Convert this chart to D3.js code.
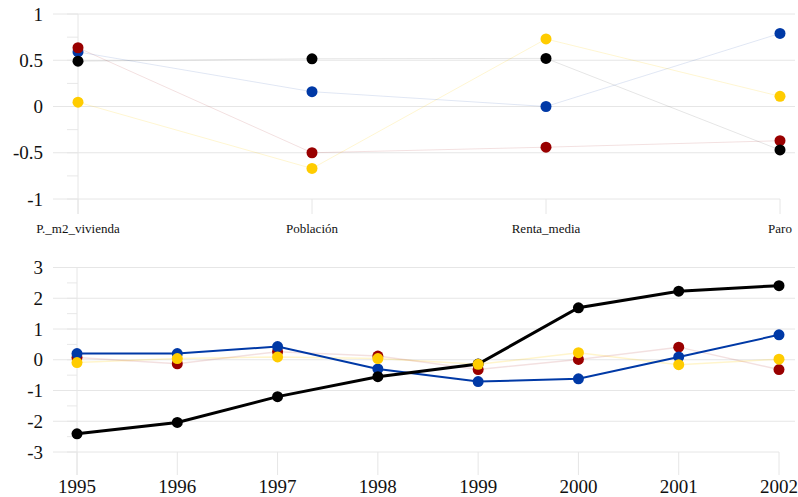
<!DOCTYPE html>
<html><head><meta charset="utf-8">
<script src="https://cdn.jsdelivr.net/npm/d3@7"></script>
<style>body{margin:0;background:#fff}svg{display:block}</style>
</head><body><svg id="c" width="798" height="497"></svg>
<script>
const categories = ["P._m2_vivienda","Población","Renta_media","Paro"];
const topBlue   = [0.59, 0.16, 0.00, 0.79];
const topRed    = [0.635, -0.50, -0.44, -0.37];
const topBlack  = [0.49, 0.516, 0.52, -0.47];
const topYellow = [0.047, -0.67, 0.73, 0.11];
const topTicks = [-1,-0.5,0,0.5,1];
const topTickLabels = ["-1","-0.5","0","0.5","1"];

const years = ["1995","1996","1997","1998","1999","2000","2001","2002"];
const botBlack  = [-2.41, -2.04, -1.20, -0.55, -0.14, 1.69, 2.23, 2.41];
const botBlue   = [0.20, 0.20, 0.43, -0.30, -0.71, -0.62, 0.09, 0.81];
const botRed    = [0.07, -0.13, 0.26, 0.12, -0.32, 0.01, 0.41, -0.32];
const botYellow = [-0.09, 0.04, 0.09, 0.04, -0.15, 0.23, -0.16, 0.02];
const botTicks = [-3,-2,-1,0,1,2,3];

const C = {red:"#990000", blue:"#0039a6", black:"#000000", yellow:"#ffcc00"};
const FONT = "'Liberation Serif', 'DejaVu Serif', serif";
const svg = d3.select("#c");

function panel(cfg){
  const g = svg.append("g");
  const x = d3.scalePoint().domain(cfg.cats).range(cfg.xr);
  const y = d3.scaleLinear().domain(cfg.yd).range(cfg.yr);
  const minor = d3.range(cfg.yd[0], cfg.yd[1]+1e-9, cfg.minorStep);
  g.selectAll(".mn").data(minor).join("line")
    .attr("x1",67).attr("x2",cfg.xr[0]).attr("y1",d=>y(d)).attr("y2",d=>y(d))
    .attr("stroke","#e8e8e8").attr("stroke-width",1);
  g.selectAll(".gl").data(cfg.ticks).join("line")
    .attr("x1",53).attr("x2",d=>d===cfg.yd[0]?cfg.xr[1]:795).attr("y1",d=>y(d)).attr("y2",d=>y(d))
    .attr("stroke","#e6e6e6").attr("stroke-width",1);
  g.append("line").attr("x1",cfg.xr[0]).attr("x2",cfg.xr[0]).attr("y1",cfg.yr[1]).attr("y2",cfg.yr[0]+cfg.tickLen)
    .attr("stroke","#e6e6e6");
  g.selectAll(".xt").data(cfg.cats).join("line")
    .attr("x1",d=>x(d)).attr("x2",d=>x(d)).attr("y1",cfg.yr[0]).attr("y2",cfg.yr[0]+cfg.tickLen)
    .attr("stroke","#e6e6e6");
  g.selectAll(".yl").data(cfg.ticks).join("text")
    .attr("x",43).attr("y",d=>y(d)).attr("dy","0.35em").attr("text-anchor","end")
    .attr("font-family",FONT).style("font-family",FONT).attr("fill","#111")
    .style("font-size","19px").text((d,i)=>cfg.tickLabels[i]);
  g.selectAll(".xl").data(cfg.cats).join("text")
    .attr("x",d=>x(d)).attr("y",cfg.xLabelY).attr("text-anchor","middle")
    .attr("font-family",FONT).style("font-family",FONT).attr("fill","#111")
    .style("font-size",cfg.xFont).text(d=>d);
  const line = d3.line().x((d,i)=>x(cfg.cats[i])).y(d=>y(d));
  cfg.series.forEach(s=>{
    g.append("path").datum(s.v).attr("d",line).attr("fill","none")
      .attr("stroke",s.c).attr("stroke-width",s.w).attr("stroke-opacity",s.o);
  });
  cfg.pointOrder.forEach(k=>{
    const s = cfg.series.find(q=>q.k===k);
    g.selectAll(null).data(s.v).join("circle")
      .attr("cx",(d,i)=>x(cfg.cats[i])).attr("cy",d=>y(d)).attr("r",5.5).attr("fill",s.c);
  });
}

panel({
  cats:categories, xr:[78,780], yd:[-1,1], yr:[199,14], minorStep:0.25,
  ticks:topTicks, tickLabels:topTickLabels, tickLen:15, xLabelY:233, xFont:"13px",
  series:[
    {k:"yellow",v:topYellow,c:C.yellow,w:1,o:0.18},
    {k:"red",v:topRed,c:C.red,w:1,o:0.12},
    {k:"blue",v:topBlue,c:C.blue,w:1,o:0.12},
    {k:"black",v:topBlack,c:C.black,w:1,o:0.1}
  ],
  pointOrder:["blue","red","black","yellow"]
});

panel({
  cats:years, xr:[77,779], yd:[-3,3], yr:[452,267.5], minorStep:0.5,
  ticks:botTicks, tickLabels:botTicks.map(String), tickLen:23, xLabelY:493, xFont:"19px",
  series:[
    {k:"yellow",v:botYellow,c:C.yellow,w:1.5,o:0.2},
    {k:"red",v:botRed,c:C.red,w:1.5,o:0.12},
    {k:"blue",v:botBlue,c:C.blue,w:2,o:1},
    {k:"black",v:botBlack,c:C.black,w:3,o:1}
  ],
  pointOrder:["red","blue","black","yellow"]
});
</script></body></html>
